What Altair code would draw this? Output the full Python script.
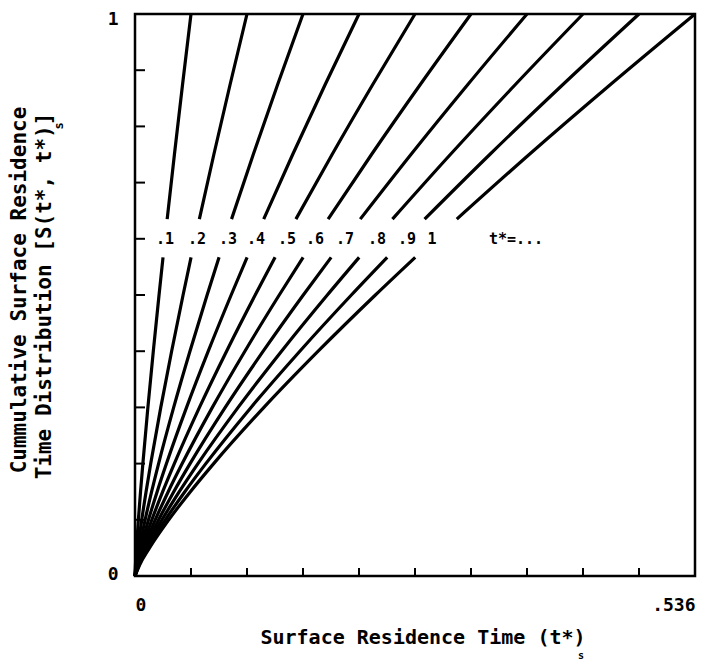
import altair as alt
import pandas as pd

# ---- data ----
T_STAR = [0.1, 0.2, 0.3, 0.4, 0.5, 0.6, 0.7, 0.8, 0.9, 1.0]
# y levels at which each curve was read (lower part up to 0.567, gap, upper part from 0.635)
Y_LEVELS = [0, 0.02, 0.05, 0.1, 0.15, 0.2, 0.3, 0.4, 0.5, 0.567, 0.635, 0.75, 0.875, 1.0]
GAP_LOW = 0.567

X_T01 = [0, 0.00045, 0.00139, 0.00323, 0.0053, 0.00753, 0.01234, 0.01753, 0.02301, 0.02682, 0.0308, 0.03773, 0.04554, 0.0536]
X_T02 = [0, 0.0009, 0.00278, 0.00646, 0.0106, 0.01506, 0.02468, 0.03506, 0.04602, 0.05364, 0.0616, 0.07546, 0.09108, 0.1072]
X_T03 = [0, 0.00135, 0.00417, 0.00969, 0.0159, 0.02259, 0.03702, 0.05259, 0.06903, 0.08046, 0.0924, 0.11319, 0.13662, 0.1608]
X_T04 = [0, 0.0018, 0.00556, 0.01292, 0.0212, 0.03012, 0.04936, 0.07012, 0.09204, 0.10728, 0.1232, 0.15092, 0.18216, 0.2144]
X_T05 = [0, 0.00225, 0.00695, 0.01615, 0.0265, 0.03765, 0.0617, 0.08765, 0.11505, 0.1341, 0.154, 0.18865, 0.2277, 0.268]
X_T06 = [0, 0.0027, 0.00834, 0.01938, 0.0318, 0.04518, 0.07404, 0.10518, 0.13806, 0.16092, 0.1848, 0.22638, 0.27324, 0.3216]
X_T07 = [0, 0.00315, 0.00973, 0.02261, 0.0371, 0.05271, 0.08638, 0.12271, 0.16107, 0.18774, 0.2156, 0.26411, 0.31878, 0.3752]
X_T08 = [0, 0.0036, 0.01112, 0.02584, 0.0424, 0.06024, 0.09872, 0.14024, 0.18408, 0.21456, 0.2464, 0.30184, 0.36432, 0.4288]
X_T09 = [0, 0.00405, 0.01251, 0.02907, 0.0477, 0.06777, 0.11106, 0.15777, 0.20709, 0.24138, 0.2772, 0.33957, 0.40986, 0.4824]
X_T10 = [0, 0.0045, 0.0139, 0.0323, 0.053, 0.0753, 0.1234, 0.1753, 0.2301, 0.2682, 0.308, 0.3773, 0.4554, 0.536]
CURVES = [X_T01, X_T02, X_T03, X_T04, X_T05, X_T06, X_T07, X_T08, X_T09, X_T10]

LABEL_TEXT = [".1", ".2", ".3", ".4", ".5", ".6", ".7", ".8", ".9", "1", "t*=..."]
LABEL_X = [0.0287, 0.0593, 0.089, 0.1158, 0.1455, 0.1723, 0.201, 0.2316, 0.2604, 0.2843, 0.3647]
LABEL_Y = 0.599

X_TICKS = [0.0536, 0.1072, 0.1608, 0.2144, 0.268, 0.3216, 0.3752, 0.4288, 0.4824]
Y_TICKS = [0.1, 0.2, 0.3, 0.4, 0.5, 0.6, 0.7, 0.8, 0.9]
X_LABEL_VALUES = [0, 0.536]
Y_LABEL_VALUES = [0, 1]

X_TITLE = "Surface Residence Time  (t*)"
Y_TITLE_1 = "Cummulative  Surface Residence"
Y_TITLE_2 = "Time Distribution  [S(t*, t*)]"
SUB = "s"

FONT = "DejaVu Sans Mono"

# ---- build tables ----
rows = []
for t, xs in zip(T_STAR, CURVES):
    for i, (y, x) in enumerate(zip(Y_LEVELS, xs)):
        part = "lower" if y <= GAP_LOW else "upper"
        rows.append({"tstar": t, "key": f"{t}-{part}", "x": x, "y": y, "order": i})
curves = pd.DataFrame(rows)
labels = pd.DataFrame({"x": LABEL_X, "y": [LABEL_Y] * len(LABEL_X), "text": LABEL_TEXT})
xticks = pd.DataFrame({"v": X_TICKS})
yticks = pd.DataFrame({"v": Y_TICKS})

W, H = 560, 562
xscale = alt.Scale(domain=[0, 0.536], nice=False, zero=False)
yscale = alt.Scale(domain=[0, 1], nice=False, zero=False)

X_AXIS = alt.Axis(values=X_LABEL_VALUES, labelExpr="datum.value == 0 ? '0' : '.536'",
                  ticks=False, tickSize=0, domain=False, grid=False, title=None,
                  labelFont=FONT, labelFontSize=18, labelFontWeight="bold",
                  labelColor="black", labelPadding=20)
Y_AXIS = alt.Axis(values=Y_LABEL_VALUES, labelExpr="datum.value == 0 ? '0' : '1'",
                  ticks=False, tickSize=0, domain=False, grid=False, title=None,
                  labelFont=FONT, labelFontSize=18, labelFontWeight="bold",
                  labelColor="black", labelPadding=17,
                  labelOffset={"condition": {"test": "datum.value == 1", "value": 5}, "value": -2})


def X(field):
    return alt.X(field, type="quantitative", scale=xscale, axis=X_AXIS)


def Y(field):
    return alt.Y(field, type="quantitative", scale=yscale, axis=Y_AXIS)


lines = alt.Chart(curves).mark_line(color="black", strokeWidth=3.2, interpolate="monotone").encode(
    x=X("x"), y=Y("y"), detail="key:N", order="order:Q"
)

xtick_rules = alt.Chart(xticks).mark_rule(color="black", strokeWidth=2).encode(
    x=X("v"), y=alt.value(H), y2=alt.value(H - 8)
)
ytick_rules = alt.Chart(yticks).mark_rule(color="black", strokeWidth=2).encode(
    y=Y("v"), x=alt.value(0), x2=alt.value(10)
)

label_text = alt.Chart(labels).mark_text(font=FONT, fontSize=15, fontWeight="bold",
                                         color="black", align="center", baseline="middle").encode(
    x=X("x"), y=Y("y"), text="text:N"
)

x_title = alt.Chart(pd.DataFrame({"text": [X_TITLE]})).mark_text(
    font=FONT, fontSize=20, fontWeight="bold", color="black", align="center", baseline="middle"
).encode(x=alt.value(288), y=alt.value(624), text="text:N")
x_sub = alt.Chart(pd.DataFrame({"text": [SUB]})).mark_text(
    font=FONT, fontSize=10, fontWeight="bold", color="black", align="center", baseline="middle"
).encode(x=alt.value(446), y=alt.value(642), text="text:N")
y_title1 = alt.Chart(pd.DataFrame({"text": [Y_TITLE_1]})).mark_text(
    font=FONT, fontSize=21, fontWeight="bold", color="black", align="center", baseline="middle", angle=270
).encode(x=alt.value(-115), y=alt.value(276), text="text:N")
y_title2 = alt.Chart(pd.DataFrame({"text": [Y_TITLE_2]})).mark_text(
    font=FONT, fontSize=21, fontWeight="bold", color="black", align="center", baseline="middle", angle=270
).encode(x=alt.value(-90), y=alt.value(282), text="text:N")
y_sub = alt.Chart(pd.DataFrame({"text": [SUB]})).mark_text(
    font=FONT, fontSize=12, fontWeight="bold", color="black", align="center", baseline="middle", angle=270
).encode(x=alt.value(-76), y=alt.value(112), text="text:N")

chart = alt.layer(lines, xtick_rules, ytick_rules, label_text, x_title, x_sub, y_title1, y_title2, y_sub).properties(
    width=W, height=H,
    autosize=alt.AutoSizeParams(type="none"),
    padding={"left": 127, "top": 6, "right": 8, "bottom": 85},
    background="white",
).configure_view(stroke="black", strokeWidth=2.5)

chart.save("out.html", embed_options={"renderer": "svg", "actions": False})
